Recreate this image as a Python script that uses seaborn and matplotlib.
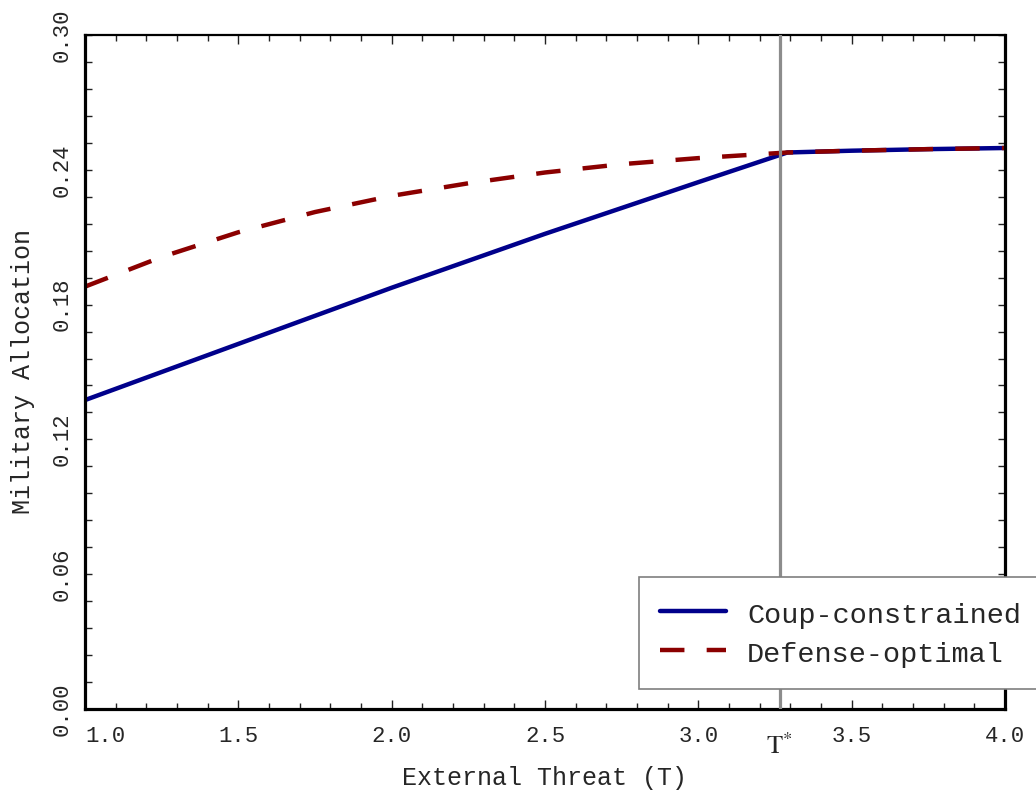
import numpy as np
import pandas as pd
import matplotlib
matplotlib.use("Agg")
import matplotlib.pyplot as plt
import seaborn as sns
from matplotlib.ticker import MultipleLocator, FixedLocator
from matplotlib.lines import Line2D

# ---- data ----
threat_coup = [1.0, 1.5, 2.0, 2.5, 3.0, 3.29, 3.5, 3.75, 4.0]
alloc_coup = [0.1375, 0.1625, 0.1875, 0.2115, 0.2345, 0.2477, 0.2485, 0.2492, 0.2497]

threat_def = [1.0, 1.25, 1.5, 1.75, 2.0, 2.25, 2.5, 2.75, 3.0, 3.29, 3.5, 3.75, 4.0]
alloc_def = [0.1880, 0.2012, 0.2122, 0.2212, 0.2284, 0.2340, 0.2388, 0.2425, 0.2452,
             0.2477, 0.2485, 0.2492, 0.2497]

t_star = 3.265
x_ticks = [1.0, 1.5, 2.0, 2.5, 3.0, 3.5, 4.0]
x_ticklabels = ["1.0", "1.5", "2.0", "2.5", "3.0", "3.5", "4.0"]
y_ticks = [0.00, 0.06, 0.12, 0.18, 0.24, 0.30]
y_ticklabels = ["0.00", "0.06", "0.12", "0.18", "0.24", "0.30"]
series_names = ["Coup-constrained", "Defense-optimal"]

df = pd.concat([
    pd.DataFrame({"T": threat_coup, "alloc": alloc_coup, "series": series_names[0]}),
    pd.DataFrame({"T": threat_def, "alloc": alloc_def, "series": series_names[1]}),
])

sns.set_theme(style="white")
plt.rcParams["font.family"] = ["Liberation Mono", "DejaVu Sans Mono"]
plt.rcParams["mathtext.fontset"] = "stix"

fig = plt.figure(figsize=(10.36, 7.91), dpi=100)
ax = fig.add_axes([85 / 1036, 1 - 709 / 791, (1005 - 85) / 1036, (709 - 35) / 791])

sns.lineplot(data=df, x="T", y="alloc", hue="series", style="series",
             palette={series_names[0]: "#00008B", series_names[1]: "#8B0000"},
             dashes={series_names[0]: "", series_names[1]: (5.5, 5)},
             linewidth=3.2, ax=ax, legend=False, zorder=2)

ax.axvline(t_star, color="#8c8c8c", lw=2.3, zorder=3)

ax.set_xlim(1.0, 4.0)
ax.set_ylim(0.0, 0.30)

ax.xaxis.set_major_locator(FixedLocator(x_ticks))
ax.xaxis.set_minor_locator(MultipleLocator(0.1))
ax.yaxis.set_major_locator(FixedLocator(y_ticks))
ax.yaxis.set_minor_locator(MultipleLocator(0.012))
ax.set_xticklabels(x_ticklabels)
ax.set_yticklabels(y_ticklabels, rotation=90, va="center")
ax.get_xticklabels()[0].set_ha("left")

ax.tick_params(axis="x", which="major", direction="in", length=6.5, width=1.0,
               color="#222222", top=True, bottom=True, labelsize=16, pad=12)
ax.tick_params(axis="x", which="minor", direction="in", length=4.3, width=1.0,
               color="#222222", top=True, bottom=True)
ax.tick_params(axis="y", which="major", direction="in", length=5, width=1.0,
               color="#222222", left=True, right=True, labelsize=16, pad=9)
ax.tick_params(axis="y", which="minor", direction="in", length=5, width=1.0,
               color="#222222", left=True, right=True)

for side in ["left", "bottom", "right"]:
    ax.spines[side].set_linewidth(2.3)
    ax.spines[side].set_color("black")
ax.spines["top"].set_linewidth(1.6)
ax.spines["top"].set_color("black")

ax.set_xlabel("External Threat (T)", fontsize=18, labelpad=14)
ax.set_ylabel("Military Allocation", fontsize=18, labelpad=12)

ax.text(t_star, -0.0165, r"$\mathrm{T}^{*}$", fontsize=19, ha="center", va="center",
        transform=ax.transData)

handles = [Line2D([], [], color="#00008B", lw=3.2),
           Line2D([], [], color="#8B0000", lw=3.2, dashes=(5.5, 5))]
leg = fig.legend(handles, series_names, loc="upper left",
                 bbox_to_anchor=(639 / 1036, 1 - 577 / 791), borderaxespad=0,
                 fontsize=20.5, handlelength=2.3, handletextpad=0.75,
                 handleheight=1.26, borderpad=0.75, labelspacing=0.29,
                 frameon=True, fancybox=False,
                 framealpha=1, edgecolor="#7f7f7f", facecolor="white")
leg.get_frame().set_linewidth(1.2)
leg.set_zorder(10)

fig.savefig("out.png", dpi=100)
